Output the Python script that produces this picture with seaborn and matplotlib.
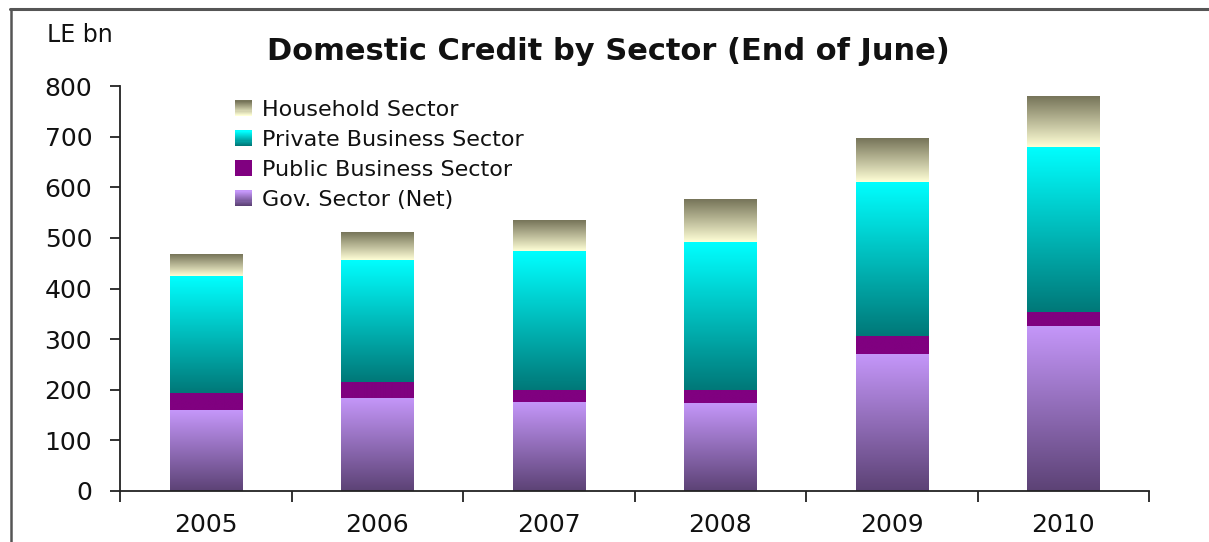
import numpy as np
import matplotlib
matplotlib.use("Agg")
import matplotlib.pyplot as plt
import seaborn as sns
from matplotlib.colors import LinearSegmentedColormap
from matplotlib.legend_handler import HandlerBase
from matplotlib.patches import Rectangle
from matplotlib.lines import Line2D

# ---------------- data ----------------
years = ["2005", "2006", "2007", "2008", "2009", "2010"]
gov_sector = [160, 184, 176, 174, 271, 326]
public_business = [34, 31, 24, 26, 35, 28]
private_business = [231, 241, 274, 292, 305, 326]
household = [43, 54, 60, 83, 85, 99]
series_names = ["Gov. Sector (Net)", "Public Business Sector",
                "Private Business Sector", "Household Sector"]
y_ticks = [0, 100, 200, 300, 400, 500, 600, 700, 800]

# gradient colours (bottom, top) for each series
grad_colors = [("#5C4275", "#C597FA"),
               ("#800080", "#800080"),
               ("#007878", "#00FFFF"),
               ("#FFFFD6", "#767459")]

sns.set_theme(style="white")
plt.rcParams['font.family'] = ['DejaVu Sans']

fig = plt.figure(figsize=(12.09, 5.42), dpi=100)
ax = fig.add_axes([120 / 1209, 1 - 491 / 542, (1149 - 120) / 1209, (491 - 86) / 542])

layers = [gov_sector, public_business, private_business, household]
cum = np.cumsum(np.array(layers, dtype=float), axis=0)

for i in range(len(layers)):
    n_before = len(ax.patches)
    sns.barplot(x=years, y=cum[i], ax=ax, color="white", width=0.42,
                saturation=1, errorbar=None)
    new_patches = ax.patches[n_before:]
    bottom_c, top_c = grad_colors[i]
    cmap = LinearSegmentedColormap.from_list(f"g{i}", [bottom_c, top_c])
    grad = np.linspace(0, 1, 256).reshape(-1, 1)
    for j, p in enumerate(new_patches):
        x0 = p.get_x()
        w = p.get_width()
        top = p.get_height()
        bot = 0 if i == 0 else cum[i - 1][j]
        ax.imshow(grad, cmap=cmap, origin="lower", aspect="auto",
                  extent=[x0, x0 + w, bot, top], zorder=2, interpolation="bilinear")
        p.set_visible(False)

ax.set_xlim(-0.5, 5.5)
ax.set_ylim(0, 800)
ax.set_yticks(y_ticks)
ax.set_xticks(range(len(years)))
ax.set_xticklabels(years)
ax.set_xticks(np.arange(-0.5, 6.0, 1.0), minor=True)
ax.set_xlabel("")
ax.set_ylabel("")

for s in ["top", "right"]:
    ax.spines[s].set_visible(False)
for s in ["left", "bottom"]:
    ax.spines[s].set_color("#222222")
    ax.spines[s].set_linewidth(1.3)

ax.tick_params(axis="y", which="major", direction="out", length=7, width=1.3,
               color="#222222", left=True, labelsize=18, pad=13, labelcolor="#111111")
ax.tick_params(axis="x", which="major", length=0, labelsize=18, pad=16, labelcolor="#111111")
ax.tick_params(axis="x", which="minor", direction="out", length=8, width=1.3,
               color="#222222", bottom=True)

# title and unit label
fig.text(0.503, 0.905, "Domestic Credit by Sector (End of June)", ha="center", va="center",
         fontsize=22, fontweight="bold", color="#111111")
fig.text(47 / 1209, 1 - 35 / 542, "LE bn", ha="left", va="center", fontsize=17, color="#111111")

# border lines
fig.add_artist(Line2D([10 / 1209, 1.0], [1 - 9 / 542, 1 - 9 / 542], transform=fig.transFigure,
                      color="#555555", lw=2.2))
fig.add_artist(Line2D([11 / 1209, 11 / 1209], [1 - 9 / 542, 0], transform=fig.transFigure,
                      color="#555555", lw=1.8))


# legend with gradient swatches
class GradHandler(HandlerBase):
    def __init__(self, bottom, top, n=14):
        super().__init__()
        self.bottom = bottom
        self.top = top
        self.n = n

    def create_artists(self, legend, orig_handle, xdescent, ydescent, width, height,
                       fontsize, trans):
        cm = LinearSegmentedColormap.from_list("h", [self.bottom, self.top])
        arts = []
        for k in range(self.n):
            r = Rectangle((-xdescent, -ydescent + height * k / self.n), width,
                          height / self.n * 1.05, facecolor=cm(k / (self.n - 1)),
                          edgecolor="none", transform=trans)
            arts.append(r)
        return arts


order = [3, 2, 1, 0]
handles = []
hmap = {}
for i in order:
    h = Rectangle((0, 0), 1, 1)
    handles.append(h)
    hmap[h] = GradHandler(*grad_colors[i])
fig.legend(handles, [series_names[i] for i in order], handler_map=hmap,
           loc="upper left", bbox_to_anchor=(235 / 1209, 1 - 100 / 542),
           frameon=False, fontsize=16, handlelength=0.75, handleheight=0.7,
           handletextpad=0.45, labelspacing=0.45, borderpad=0, borderaxespad=0,
           labelcolor="#111111")

fig.savefig("out.png", dpi=100, facecolor="white")
